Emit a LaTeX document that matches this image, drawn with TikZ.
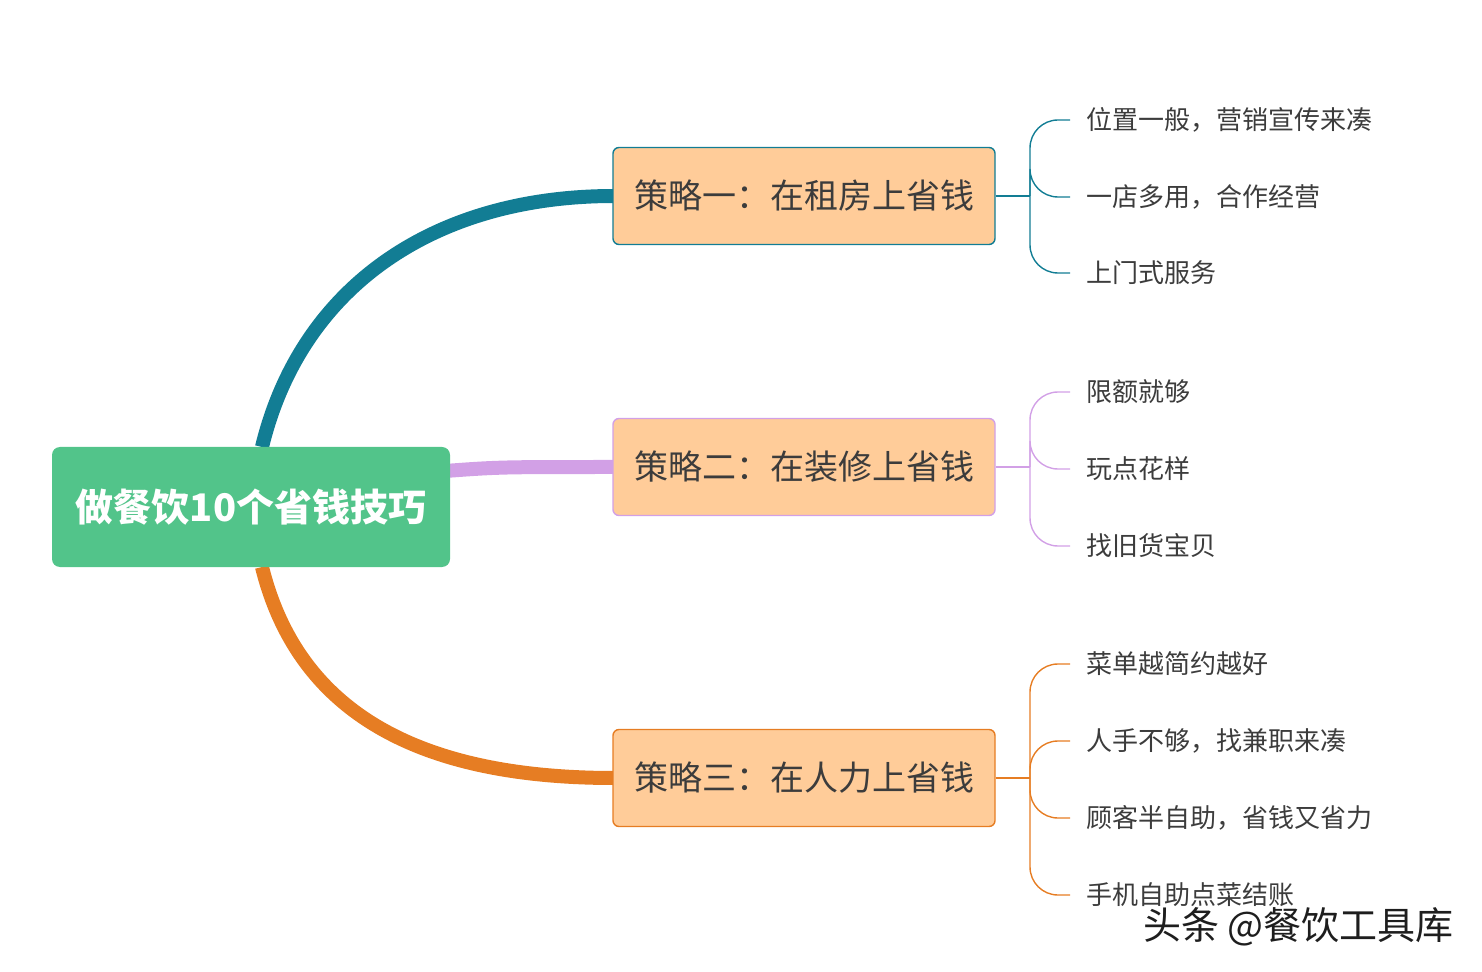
\documentclass[tikz,border=0pt]{standalone}
\usepackage{fontspec}
\setmainfont{Noto Sans CJK SC}
\begin{document}
\begin{tikzpicture}[x=0.5pt,y=-0.5pt,
 root/.style={fill={rgb,255:red,82;green,196;blue,138},rounded corners=4pt,minimum width=199pt,minimum height=60pt,text=white,font=\fontsize{19}{21}\selectfont\bfseries},
 br/.style={fill={rgb,255:red,255;green,204;blue,153},draw=#1,line width=0.7pt,rounded corners=3pt,minimum width=191pt,minimum height=48.5pt,text={rgb,255:red,60;green,60;blue,60},font=\fontsize{17}{19}\selectfont},
 leaf/.style={anchor=west,inner sep=0pt,text={rgb,255:red,60;green,60;blue,60},font=\fontsize{13}{15}\selectfont},
 lk/.style={draw=#1,line width=0.7pt,rounded corners=14pt}]
\definecolor{teal}{RGB}{18,125,148}
\definecolor{purp}{RGB}{210,160,230}
\definecolor{orng}{RGB}{230,125,35}
\useasboundingbox (0,0) rectangle (1482,972);
\draw[teal,line width=7pt] (262,447) .. controls (300,290) and (430,196) .. (614,196);
\draw[orng,line width=7pt] (262,567) .. controls (300,720) and (430,778) .. (614,778);
\draw[purp,line width=7pt] (445,471) .. controls (500,467) .. (614,467);
\node[root] (r) at (251,507) {做餐饮10个省钱技巧};
\node[br=teal] (b1) at (804,196) {策略一：在租房上省钱};
\node[br=purp] (b2) at (804,467) {策略二：在装修上省钱};
\node[br=orng] (b3) at (804,778) {策略三：在人力上省钱};
\node[leaf] (l11) at (1086,120) {位置一般，营销宣传来凑};
\node[leaf] (l12) at (1086,197) {一店多用，合作经营};
\node[leaf] (l13) at (1086,273) {上门式服务};
\node[leaf] (l21) at (1086,392) {限额就够};
\node[leaf] (l22) at (1086,469) {玩点花样};
\node[leaf] (l23) at (1086,546) {找旧货宝贝};
\node[leaf] (l31) at (1086,664) {菜单越简约越好};
\node[leaf] (l32) at (1086,741) {人手不够，找兼职来凑};
\node[leaf] (l33) at (1086,818) {顾客半自助，省钱又省力};
\node[leaf] (l34) at (1086,895) {手机自助点菜结账};
\coordinate (j1) at (1030,196);
\coordinate (j2) at (1030,467);
\coordinate (j3) at (1030,778);
\draw[teal,line width=0.7pt] (b1.east) -- (j1);
\draw[purp,line width=0.7pt] (b2.east) -- (j2);
\draw[orng,line width=0.7pt] (b3.east) -- (j3);
\foreach \l in {l11,l12,l13}{\draw[lk=teal] (j1) |- ([xshift=-8pt]\l.west);}
\foreach \l in {l21,l22,l23}{\draw[lk=purp] (j2) |- ([xshift=-8pt]\l.west);}
\foreach \l in {l31,l32,l33,l34}{\draw[lk=orng] (j3) |- ([xshift=-8pt]\l.west);}
\node[anchor=west,inner sep=0pt,font=\fontsize{19}{21}\selectfont,text={rgb,255:red,30;green,30;blue,30}] (wm) at (1143,927) {头条 @餐饮工具库};
\end{tikzpicture}
\end{document}
